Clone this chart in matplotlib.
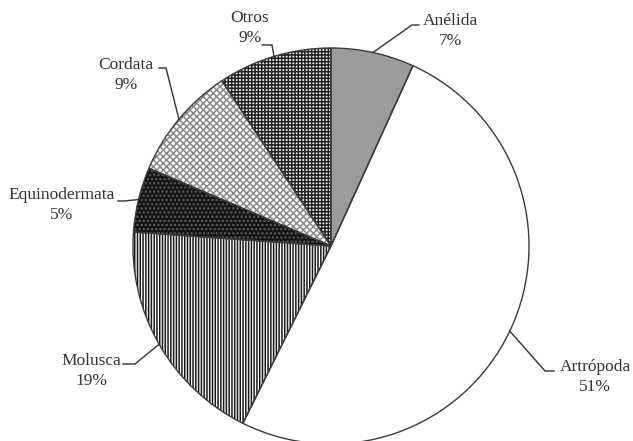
import numpy as np
import matplotlib
matplotlib.use("Agg")
import matplotlib.pyplot as plt

# ---- data ----
categories = ["Anélida", "Artrópoda", "Molusca", "Equinodermata", "Cordata", "Otros"]
shares = [6.8, 50.6, 18.8, 5.3, 9.3, 9.3]
pct_labels = ["7%", "51%", "19%", "5%", "9%", "9%"]

# ---- styles ----
face = ["#9b9b9b", "white", "white", "#151515", "white", "white"]
hatches = [None, None, "||||||", "....", "xxxxx", "+++++"]
hatch_col = ["#9b9b9b", "white", "#1a1a1a", "#5a5a5a", "#8a8a8a", "#222222"]

W, H = 633, 441
plt.rcParams["font.family"] = ["Liberation Serif", "DejaVu Serif"]
plt.rcParams["hatch.linewidth"] = 1.1

fig = plt.figure(figsize=(W / 100, H / 100), dpi=100)
ax = fig.add_axes([0, 0, 1, 1])

cx, cy, r = 331, H - 246, 198

wedges, _ = ax.pie(shares, center=(cx, cy), radius=r, startangle=90,
                   counterclock=False, colors=face, frame=True,
                   wedgeprops=dict(linewidth=0))
for w, h, hc in zip(wedges, hatches, hatch_col):
    if h:
        w.set_hatch(h)
        w.set_edgecolor(hc)
        w.set_linewidth(0)

ax.pie(shares, center=(cx, cy), radius=r, startangle=90,
       counterclock=False, colors=["none"] * len(shares), frame=True,
       wedgeprops=dict(linewidth=1.0, edgecolor="#3a3a3a", fill=False))
ax.set_xlim(0, W)
ax.set_ylim(0, H)
ax.set_aspect("equal")
ax.axis("off")

# label layout in pixel coords (text center, elbow, line end)
layout = {
    "Anélida": ((450, 31), (412, 25), (419, 25)),
    "Artrópoda": ((595, 377), (545, 371), (554, 371)),
    "Molusca": ((91, 371), (135, 364), (123, 364)),
    "Equinodermata": ((62, 205), (124, 201), (118, 201)),
    "Cordata": ((126, 75), (166, 68), (159, 68)),
    "Otros": ((250, 28), (272, 45), (262, 45)),
}

for w, cat, pl in zip(wedges, categories, pct_labels):
    mid = np.deg2rad((w.theta1 + w.theta2) / 2)
    ax_ = cx + r * np.cos(mid)
    ay_ = cy + r * np.sin(mid)
    (tx, ty), (ex, ey), (lx, ly) = layout[cat]
    ax.plot([ax_, ex, lx], [ay_, H - ey, H - ly], color="#333333", lw=1.0,
            solid_joinstyle="miter")
    ax.text(tx, H - ty, f"{cat}\n{pl}", ha="center", va="center",
            fontsize=12.5, color="#333333", linespacing=1.3)

fig.savefig("out.png", dpi=100)
